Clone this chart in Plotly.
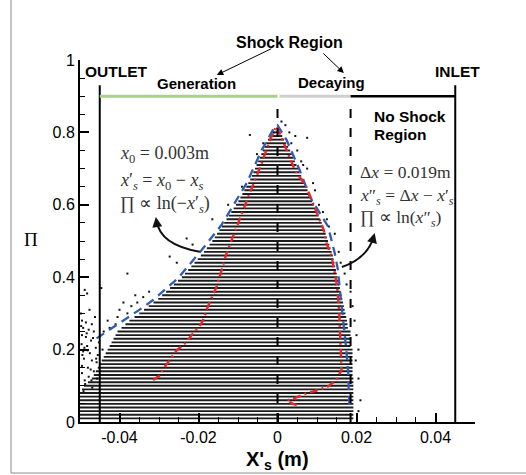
import plotly.graph_objects as go

# ---------------- data ----------------
# dense scatter rows: Pi level, left and right extent of the dense band
rows_pi = [0.01,0.02,0.03,0.04,0.05,0.06,0.07,0.08,0.09,0.10,
           0.11,0.12,0.13,0.14,0.15,0.16,0.17,0.18,0.19,0.20,
           0.21,0.22,0.23,0.24,0.25,0.26,0.27,0.28,0.29,0.30,
           0.31,0.32,0.33,0.34,0.35,0.36,0.37,0.38,0.39,0.40,
           0.41,0.42,0.43,0.44,0.45,0.46,0.47,0.48,0.49,0.50,
           0.51,0.52,0.53,0.54,0.55,0.56,0.57,0.58,0.59,0.60,
           0.61,0.62,0.63,0.64,0.65,0.66,0.67,0.68,0.69,0.70,
           0.71,0.72,0.73,0.74,0.75,0.76,0.77,0.78,0.79,0.80]
rows_left = [-0.05,-0.05,-0.05,-0.05,-0.05,-0.05,-0.05,-0.05,-0.0495,-0.049,
             -0.048,-0.047,-0.0465,-0.046,-0.0455,-0.045,-0.0445,-0.044,-0.0435,-0.043,
             -0.0425,-0.042,-0.0415,-0.041,-0.0405,-0.0395,-0.0385,-0.0375,-0.0362,-0.035,
             -0.0338,-0.0326,-0.0314,-0.0302,-0.0292,-0.0282,-0.0272,-0.0262,-0.0252,-0.0242,
             -0.0234,-0.0226,-0.0218,-0.021,-0.0202,-0.0194,-0.0186,-0.0179,-0.0172,-0.0165,
             -0.0159,-0.0153,-0.0147,-0.0141,-0.0135,-0.0129,-0.0123,-0.0117,-0.0111,-0.0105,
             -0.0099,-0.0094,-0.0089,-0.0084,-0.0079,-0.0074,-0.0069,-0.0065,-0.0061,-0.0057,
             -0.0053,-0.0049,-0.0045,-0.0041,-0.0037,-0.0033,-0.0029,-0.0024,-0.0019,-0.0013]
rows_right = [0.0192,0.0192,0.0192,0.0192,0.0192,0.0192,0.0192,0.0192,0.0192,0.0192,
              0.0192,0.0192,0.019,0.019,0.019,0.019,0.019,0.019,0.019,0.019,
              0.0185,0.0185,0.0185,0.0185,0.0185,0.0178,0.0177,0.0176,0.0174,0.0172,
              0.0170,0.0168,0.0166,0.0164,0.0162,0.0160,0.0158,0.0156,0.0154,0.0152,
              0.0150,0.0148,0.0146,0.0144,0.0142,0.0140,0.0137,0.0134,0.0131,0.0128,
              0.0125,0.0122,0.0119,0.0116,0.0112,0.0108,0.0104,0.0100,0.0096,0.0092,
              0.0088,0.0084,0.0080,0.0076,0.0072,0.0068,0.0064,0.0060,0.0056,0.0052,
              0.0048,0.0044,0.0040,0.0036,0.0032,0.0027,0.0022,0.0017,0.0012,0.0006]

# sparse scattered points
sparse_x = [-0.0488,-0.0482,-0.0495,-0.0485,-0.047,-0.0492,-0.0478,-0.0465,-0.0495,-0.0485,
            -0.0472,-0.0496,-0.0482,-0.046,-0.0492,-0.0475,-0.0455,-0.049,-0.047,-0.0458,
            -0.0495,-0.048,-0.0465,-0.0495,-0.0478,-0.0488,-0.0446,-0.0498,-0.0476,-0.0462,
            -0.0452,-0.0487,-0.0469,-0.0443,-0.0491,-0.0457,-0.0483,-0.0467,-0.0494,-0.0473,
            -0.0459,-0.0489,-0.0471,-0.0497,-0.0481,
            -0.044,-0.0425,-0.041,-0.043,-0.0405,-0.038,-0.040,-0.037,-0.0355,-0.039,
            -0.034,-0.0325,-0.036,-0.038,-0.0273,-0.023,-0.0255,-0.0215,-0.0165,-0.0125,
            -0.009,-0.007,-0.0036,-0.001,-0.0052,
            0.001,0.002,0.003,0.0045,0.0075,0.005,0.006,0.0075,0.009,0.0105,
            0.0115,0.013,0.0145,0.0155,0.016,0.017,0.0175,0.0185,0.019,0.0195,
            0.020,0.0205,0.0198,0.0205,0.021,0.0205,0.0035,0.0065,0.0095,0.0125]
sparse_y = [0.365,0.355,0.28,0.275,0.27,0.26,0.255,0.25,0.24,0.235,
            0.225,0.215,0.21,0.205,0.195,0.19,0.185,0.175,0.17,0.165,
            0.155,0.15,0.14,0.135,0.125,0.115,0.37,0.3,0.31,0.29,
            0.22,0.105,0.095,0.2,0.085,0.12,0.245,0.232,0.185,0.145,
            0.175,0.205,0.115,0.265,0.198,
            0.25,0.26,0.27,0.28,0.29,0.30,0.31,0.32,0.33,0.33,
            0.345,0.36,0.35,0.41,0.457,0.507,0.44,0.49,0.56,0.6,
            0.65,0.793,0.77,0.80,0.74,
            0.83,0.82,0.80,0.79,0.785,0.75,0.72,0.70,0.66,0.60,
            0.58,0.54,0.52,0.47,0.44,0.41,0.38,0.36,0.32,0.28,
            0.24,0.20,0.17,0.12,0.06,0.03,0.77,0.71,0.64,0.56]

# blue dashed fit curve
blue_x = [-0.0458,-0.0415,-0.0374,-0.034,-0.0315,-0.0252,-0.0192,-0.0142,-0.0078,-0.004,-0.0007,
          0.0,0.0023,0.0056,0.0082,0.0105,0.0128,0.0145,0.0153,0.0158,0.0166,0.017,
          0.0173,0.0176,0.0179,0.018,0.0181,0.0182]
blue_y = [0.231,0.262,0.291,0.317,0.337,0.397,0.475,0.544,0.66,0.751,0.816,
          0.82,0.779,0.696,0.622,0.58,0.54,0.466,0.42,0.365,0.291,0.254,
          0.213,0.176,0.139,0.102,0.061,0.045]

# red dash-dot curve
red_x = [-0.0315,-0.030,-0.0285,-0.0256,-0.0232,-0.0214,-0.0197,-0.0188,-0.0176,-0.0154,
         -0.0129,-0.0100,-0.0074,-0.0040,-0.0019,-0.0003,
         0.0009,0.0023,0.0044,0.0073,0.0095,0.0117,0.0124,0.0137,0.0145,0.0151,
         0.0156,0.0158,0.016,0.0162,0.0149,0.0128,0.0099,0.0073,0.0048,0.0023,
         0.004,0.0052]
red_y = [0.116,0.127,0.153,0.197,0.219,0.245,0.265,0.282,0.32,0.374,
         0.466,0.549,0.622,0.715,0.779,0.818,
         0.79,0.751,0.696,0.65,0.59,0.53,0.494,0.457,0.411,0.374,
         0.309,0.236,0.171,0.144,0.116,0.098,0.087,0.079,0.068,0.059,
         0.05,0.045]

x_tickvals = [-0.04, -0.02, 0, 0.02, 0.04]
x_ticktext = ["-0.04", "-0.02", "0", "0.02", "0.04"]
y_tickvals = [0, 0.2, 0.4, 0.6, 0.8, 1]
y_ticktext = ["0", "0.2", "0.4", "0.6", "0.8", "1"]

# region markers
outlet_x = -0.045
inlet_x = 0.045
shock_start_x = 0.0
shock_end_x = 0.0185
region_bar_y = 0.90
wall_top = 0.93
dash_top = 0.87

# ---------------- figure ----------------
fig = go.Figure()

rx, ry = [], []
for p, a, b in zip(rows_pi, rows_left, rows_right):
    rx += [a, b, None]
    ry += [p, p, None]
fig.add_trace(go.Scatter(x=rx, y=ry, mode="lines",
                         line=dict(color="#1c1c1c", width=1.9),
                         hoverinfo="skip", showlegend=False))
fig.add_trace(go.Scatter(x=sparse_x, y=sparse_y, mode="markers",
                         marker=dict(color="#111", size=2, symbol="square"),
                         showlegend=False))
fig.add_trace(go.Scatter(x=blue_x, y=blue_y, mode="lines",
                         line=dict(color="#2f5db5", width=2.3, dash="9px,6px"),
                         showlegend=False))
fig.add_trace(go.Scatter(x=red_x, y=red_y, mode="lines",
                         line=dict(color="#e8262a", width=2.4, dash="8px,4px,2px,4px"),
                         showlegend=False))

shapes = []
for xv in (outlet_x, inlet_x):
    shapes.append(dict(type="line", xref="x", yref="y", x0=xv, x1=xv, y0=0, y1=wall_top,
                       line=dict(color="black", width=2)))
for xv in (shock_start_x, shock_end_x):
    shapes.append(dict(type="line", xref="x", yref="y", x0=xv, x1=xv, y0=0, y1=dash_top,
                       line=dict(color="black", width=2, dash="9px,10px")))
shapes.append(dict(type="line", xref="x", yref="y", x0=outlet_x, x1=shock_start_x,
                   y0=region_bar_y, y1=region_bar_y, line=dict(color="#a9d18e", width=3)))
shapes.append(dict(type="line", xref="x", yref="y", x0=shock_start_x + 0.0005, x1=shock_end_x,
                   y0=region_bar_y, y1=region_bar_y, line=dict(color="#cfcfcf", width=3)))
shapes.append(dict(type="line", xref="x", yref="y", x0=shock_end_x, x1=inlet_x,
                   y0=region_bar_y, y1=region_bar_y, line=dict(color="black", width=2.5)))
shapes.append(dict(type="path", xref="x", yref="y",
                   path="M -0.0197,0.470 Q -0.0298,0.489 -0.0306,0.556",
                   line=dict(color="#111", width=2)))
shapes.append(dict(type="path", xref="x", yref="y",
                   path="M 0.0163,0.428 Q 0.0229,0.453 0.0244,0.514",
                   line=dict(color="#111", width=2)))
shapes.append(dict(type="line", xref="paper", yref="paper", x0=-0.1747, x1=-0.1747,
                   y0=-0.141, y1=1.17, line=dict(color="#8a8a8a", width=1)))
shapes.append(dict(type="line", xref="paper", yref="paper", x0=-0.1747, x1=1.14,
                   y0=-0.141, y1=-0.141, line=dict(color="#8a8a8a", width=1)))

SANS = "Liberation Sans, Arial, sans-serif"
SERIF = "Liberation Serif, Times New Roman, serif"
ann = []
def txt(x, y, t, size=16, anchor="center", font=SANS, color="black", xref="x", yref="y"):
    ann.append(dict(x=x, y=y, xref=xref, yref=yref, text=t, showarrow=False,
                    xanchor=anchor, yanchor="middle",
                    font=dict(family=font, size=size, color=color)))

txt(0.5316, 1.0497, "<b>Shock Region</b>", 16, xref="paper", yref="paper")
txt(-0.0204, 0.936, "<b>Generation</b>", 15)
txt(0.0137, 0.939, "<b>Decaying</b>", 15)
txt(-0.0407, 0.967, "<b>OUTLET</b>", 15.5)
txt(0.0456, 0.967, "<b>INLET</b>", 15.5)
txt(0.0238, 0.845, "<b>No Shock</b>", 15.5, anchor="left")
txt(0.0238, 0.795, "<b>Region</b>", 15.5, anchor="left")

mc = "#333333"
txt(-0.0404, 0.738, "<i>x</i><sub>0</sub> = 0.003m", 18, "left", SERIF, mc)
txt(-0.0404, 0.663, "<i>x</i>′<sub><i>s</i></sub> = <i>x</i><sub>0</sub> − <i>x</i><sub><i>s</i></sub>", 18, "left", SERIF, mc)
txt(-0.0404, 0.600, "∏ ∝ ln(−<i>x</i>′<sub><i>s</i></sub>)", 18, "left", SERIF, mc)
txt(0.0203, 0.690, "Δ<i>x</i> = 0.019m", 17.5, "left", SERIF, mc)
txt(0.0203, 0.624, "<i>x</i>″<sub><i>s</i></sub> = Δ<i>x</i> − <i>x</i>′<sub><i>s</i></sub>", 17.5, "left", SERIF, mc)
txt(0.0203, 0.563, "∏ ∝ ln(<i>x</i>″<sub><i>s</i></sub>)", 17.5, "left", SERIF, mc)

txt(-0.124, 0.503, "Π", 19, "center", SERIF, "black", xref="paper", yref="paper")
txt(0.5, -0.105, "<b>X'<sub>s</sub> (m)</b>", 20, "center", SANS, "black", xref="paper", yref="paper")

ann.append(dict(x=-0.01537, y=0.9586, xref="x", yref="y", ax=56, ay=-27, text="",
                showarrow=True, arrowhead=2, arrowsize=1.3, arrowwidth=1, arrowcolor="black"))
ann.append(dict(x=0.0168, y=0.964, xref="x", yref="y", ax=-22, ay=-21, text="",
                showarrow=True, arrowhead=2, arrowsize=1.3, arrowwidth=1, arrowcolor="black"))
ann.append(dict(x=-0.0308, y=0.566, xref="x", yref="y", ax=1.5, ay=10, text="",
                showarrow=True, arrowhead=2, arrowsize=1, arrowwidth=2, arrowcolor="#111"))
ann.append(dict(x=0.0246, y=0.522, xref="x", yref="y", ax=-2.5, ay=9, text="",
                showarrow=True, arrowhead=2, arrowsize=1, arrowwidth=2, arrowcolor="#111"))

fig.update_layout(
    width=526, height=475,
    margin=dict(l=80, r=51, t=60, b=53),
    paper_bgcolor="white", plot_bgcolor="white",
    shapes=shapes, annotations=ann,
    showlegend=False,
    font=dict(family=SANS, size=16, color="black"),
)
fig.update_xaxes(range=[-0.05, 0.05], tickvals=x_tickvals, ticktext=x_ticktext,
                 showgrid=False, zeroline=False, showline=True, linecolor="black", linewidth=2,
                 ticks="inside", ticklen=9, tickwidth=1.5, tickcolor="black",
                 tickfont=dict(family=SANS, size=16, color="black"),
                 minor=dict(ticks="inside", ticklen=5, tickwidth=1, tickcolor="black",
                            dtick=0.005, tick0=0, showgrid=False))
fig.update_yaxes(range=[0, 1], tickvals=y_tickvals, ticktext=y_ticktext,
                 showgrid=False, zeroline=False, showline=True, linecolor="black", linewidth=2,
                 ticks="inside", ticklen=9, tickwidth=1.5, tickcolor="black",
                 tickfont=dict(family=SANS, size=16, color="black"),
                 minor=dict(ticks="inside", ticklen=5, tickwidth=1, tickcolor="black",
                            dtick=0.05, tick0=0, showgrid=False))

fig.write_html("out.html")
